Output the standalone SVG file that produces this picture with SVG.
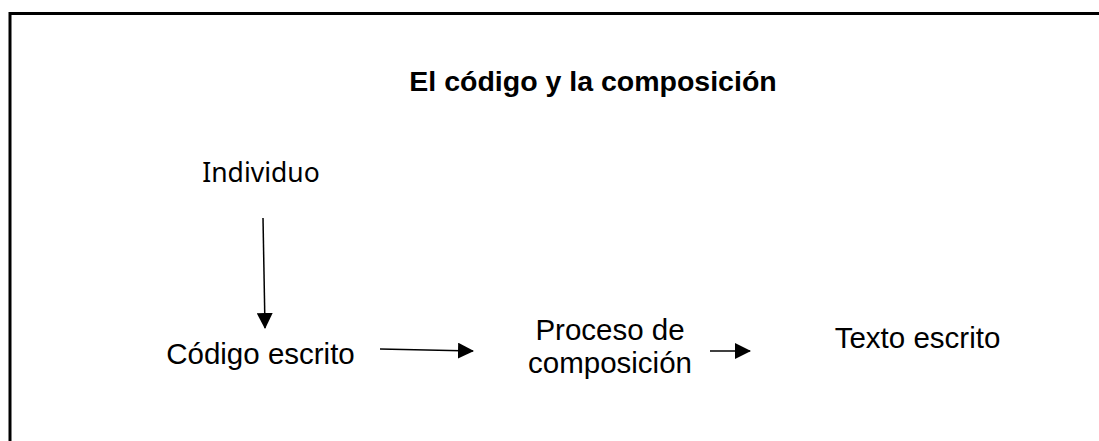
<svg xmlns="http://www.w3.org/2000/svg" width="1099" height="441" viewBox="0 0 1099 441">
<style>
.t{font-family:"Liberation Sans",Arial,sans-serif;font-size:29.5px;fill:#000}
.ttl{font-family:"Liberation Sans",Arial,sans-serif;font-size:28.5px;font-weight:bold;fill:#000}
.ind{font-family:"Noto Sans","Open Sans",sans-serif;font-size:26.5px;fill:#000}
.c{stroke:#000;stroke-width:1.5;fill:none}
</style>
<defs>
<marker id="ah" markerWidth="16" markerHeight="16" refX="15" refY="8" orient="auto" markerUnits="userSpaceOnUse">
<path d="M0,0 L16,8 L0,16 Z" fill="#000"/>
</marker>
</defs>
<rect width="1099" height="441" fill="#fff"/>
<path d="M10,441 L10,13.5 L1099,13.5" fill="none" stroke="#000" stroke-width="3"/>
<g id="title"><text class="ttl" x="593" y="91" text-anchor="middle">El código y la composición</text></g>
<g id="individuo"><text class="ind" x="261" y="182" text-anchor="middle">Individuo</text></g>
<g id="codigo"><text class="t" x="260.5" y="364" text-anchor="middle">Código escrito</text></g>
<g id="proceso"><text class="t" x="610" y="340" text-anchor="middle">Proceso de</text><text class="t" x="610" y="373" text-anchor="middle">composición</text></g>
<g id="texto"><text class="t" x="917.5" y="348" text-anchor="middle">Texto escrito</text></g>
<g id="connectors">
<line class="c" x1="263" y1="218" x2="265" y2="328" marker-end="url(#ah)"/>
<line class="c" x1="380" y1="349" x2="473" y2="351" marker-end="url(#ah)"/>
<line class="c" x1="710" y1="351" x2="750" y2="351" marker-end="url(#ah)"/>
</g>
</svg>
